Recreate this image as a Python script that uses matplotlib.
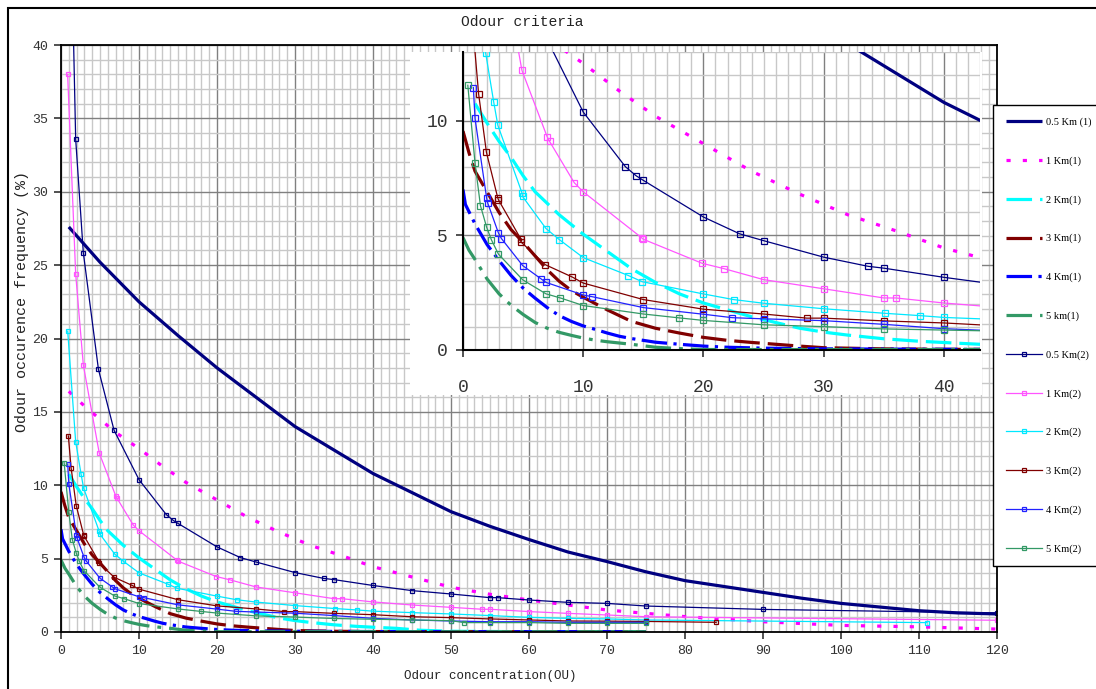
import matplotlib
matplotlib.use('Agg')
import matplotlib.pyplot as plt
from matplotlib.patches import Rectangle
from matplotlib.ticker import MultipleLocator

plt.rcParams['font.family'] = ['Liberation Mono', 'DejaVu Sans']

# ------------------------------
# series (1) : thick lines

x_05_1 = [1, 5, 10, 15, 20, 25, 30, 35, 40, 45, 50, 55, 60, 65, 70, 75, 80, 85, 90, 95, 100, 105, 110, 115, 120]
y_05_1 = [27.6, 25.2, 22.5, 20.2, 18.0, 16.0, 14.0, 12.4, 10.8, 9.5, 8.2, 7.2, 6.3, 5.45, 4.8, 4.1, 3.5, 3.1, 2.7, 2.3, 1.95, 1.7, 1.45, 1.3, 1.23]

x_1_1 = [1, 3, 5, 7, 10, 13, 16, 20, 24, 28, 32, 36, 40, 45, 50, 55, 60, 65, 70, 75, 80, 90, 100, 110, 120]
y_1_1 = [16.4, 15.4, 14.5, 13.6, 12.5, 11.3, 10.2, 9.0, 7.8, 6.8, 5.9, 5.2, 4.45, 3.75, 3.05, 2.57, 2.18, 1.84, 1.5, 1.27, 1.05, 0.7, 0.45, 0.35, 0.2]

x_2_1 = [1, 2, 3, 4, 5, 6, 8, 10, 12, 14, 16, 18, 20, 22, 24, 26, 28, 30, 32, 35, 38, 41, 43, 46, 50, 60, 70, 75]
y_2_1 = [10.75, 9.9, 9.1, 8.4, 7.6, 6.9, 5.9, 5.05, 4.3, 3.55, 2.95, 2.45, 2.05, 1.75, 1.45, 1.2, 0.95, 0.78, 0.65, 0.49, 0.38, 0.3, 0.25, 0.12, 0.05, 0.02, 0.02, 0.02]

x_3_1 = [0, 0.5, 1, 2, 3, 4, 5, 6, 7, 8, 9, 10, 12, 14, 16, 18, 20, 22, 24, 26, 28, 30, 35, 40, 50, 60, 70, 75]
y_3_1 = [9.55, 8.6, 7.8, 6.9, 6.0, 5.25, 4.7, 4.1, 3.5, 3.0, 2.6, 2.3, 1.75, 1.25, 0.95, 0.74, 0.55, 0.42, 0.33, 0.25, 0.17, 0.1, 0.05, 0.03, 0.02, 0.02, 0.02, 0.02]

x_4_1 = [0, 0.2, 1, 2, 3, 4, 5, 6, 7, 8, 9, 10, 11, 12, 13, 14, 15, 16, 18, 20, 22, 25, 30, 40, 50, 60, 70, 75]
y_4_1 = [7.0, 6.35, 5.5, 4.6, 3.9, 3.25, 2.7, 2.26, 1.85, 1.5, 1.25, 1.05, 0.9, 0.74, 0.6, 0.5, 0.42, 0.34, 0.25, 0.17, 0.12, 0.08, 0.05, 0.03, 0.02, 0.02, 0.02, 0.02]

x_5_1 = [0, 0.5, 1, 2, 3, 4, 5, 6, 7, 8, 9, 10, 11, 12, 14, 16, 18, 20, 25, 30, 40, 50, 60, 70, 75]
y_5_1 = [4.9, 4.35, 3.95, 3.1, 2.45, 1.95, 1.55, 1.2, 0.95, 0.77, 0.64, 0.52, 0.43, 0.36, 0.25, 0.12, 0.06, 0.02, 0.02, 0.02, 0.02, 0.02, 0.02, 0.02, 0.02]

# series (2) : thin lines with markers

x_05_2 = [1.5, 1.88, 2.86, 4.8, 6.8, 10.0, 13.5, 14.4, 15.0, 20.0, 23.0, 25.0, 30.0, 33.7, 35.0, 40.0, 45.0, 50.0, 55.0, 56.0, 60.0, 65.0, 70.0, 75.0, 90.0, 120.0]
y_05_2 = [43, 33.6, 25.85, 17.9, 13.75, 10.38, 8.0, 7.6, 7.4, 5.8, 5.07, 4.77, 4.05, 3.65, 3.57, 3.17, 2.82, 2.59, 2.34, 2.34, 2.18, 2.02, 1.95, 1.77, 1.54, 1.3]

x_1_2 = [0.85, 1.88, 2.86, 4.9, 7.0, 7.2, 9.25, 10.0, 14.85, 15.0, 19.9, 21.7, 25.0, 30.0, 35.0, 36.0, 40.0, 45.0, 50.0, 54.0, 55.0, 60.0, 65.0, 70.0, 75.0, 120.0]
y_1_2 = [38.0, 24.4, 18.2, 12.2, 9.3, 9.1, 7.3, 6.9, 4.9, 4.83, 3.78, 3.55, 3.07, 2.67, 2.27, 2.27, 2.05, 1.84, 1.68, 1.55, 1.55, 1.39, 1.27, 1.16, 1.04, 0.8]

x_2_2 = [0.86, 1.88, 2.56, 2.9, 4.9, 4.95, 6.9, 8.0, 10.0, 13.75, 14.9, 19.95, 22.5, 25.0, 30.0, 35.1, 38.0, 40.0, 45.0, 50.0, 55.0, 60.0, 65.0, 70.0, 75.0, 111.0]
y_2_2 = [20.5, 12.97, 10.8, 9.8, 6.86, 6.7, 5.3, 4.82, 4.03, 3.25, 2.98, 2.45, 2.2, 2.04, 1.8, 1.6, 1.5, 1.42, 1.32, 1.23, 1.12, 1.0, 0.93, 0.89, 0.82, 0.64]

x_3_2 = [0.94, 1.3, 1.95, 2.9, 2.95, 4.8, 4.85, 6.85, 9.1, 10.0, 15.0, 20.0, 25.0, 28.6, 30.0, 35.0, 40.0, 45.0, 50.0, 55.0, 60.0, 65.0, 70.0, 75.0, 84.0]
y_3_2 = [13.36, 11.17, 8.62, 6.62, 6.55, 4.85, 4.7, 3.72, 3.18, 2.92, 2.2, 1.78, 1.57, 1.39, 1.39, 1.27, 1.18, 1.04, 0.98, 0.89, 0.82, 0.75, 0.74, 0.72, 0.66]

x_4_2 = [0.86, 1.0, 1.97, 2.05, 2.95, 3.2, 4.97, 6.5, 6.9, 10.0, 10.7, 15.0, 20.0, 22.4, 25.0, 30.0, 35.0, 40.0, 45.0, 50.0, 55.0, 60.0, 65.0, 70.0, 75.0]
y_4_2 = [11.45, 10.1, 6.61, 6.42, 5.1, 4.86, 3.68, 3.1, 2.95, 2.4, 2.33, 1.85, 1.56, 1.41, 1.36, 1.28, 1.12, 0.93, 0.82, 0.75, 0.7, 0.7, 0.66, 0.66, 0.66]

x_5_2 = [0.4, 1.0, 1.45, 1.97, 2.35, 2.95, 4.97, 6.9, 8.1, 10.0, 15.0, 18.0, 20.0, 25.0, 30.0, 35.0, 40.0, 45.0, 50.0, 51.7, 55.0, 60.0, 65.0, 70.0, 75.0]
y_5_2 = [11.55, 8.15, 6.3, 5.35, 4.82, 4.18, 3.06, 2.45, 2.27, 1.94, 1.57, 1.4, 1.29, 1.1, 1.02, 0.92, 0.87, 0.82, 0.77, 0.64, 0.64, 0.64, 0.59, 0.59, 0.59]

thick = [
    ("0.5 Km (1)", x_05_1, y_05_1, "#000080", None),
    ("1 Km(1)", x_1_1, y_1_1, "#FF00FF", (1.3, 3.8)),
    ("2 Km(1)", x_2_1, y_2_1, "#00FFFF", (8, 2.5)),
    ("3 Km(1)", x_3_1, y_3_1, "#800000", (8, 2.5)),
    ("4 Km(1)", x_4_1, y_4_1, "#0000FF", (8, 2, 1, 2)),
    ("5 km(1)", x_5_1, y_5_1, "#339966", (8, 2.5, 1.2, 2.5)),
]
thin = [
    ("0.5 Km(2)", x_05_2, y_05_2, "#000080"),
    ("1 Km(2)", x_1_2, y_1_2, "#FF55FF"),
    ("2 Km(2)", x_2_2, y_2_2, "#00E8FF"),
    ("3 Km(2)", x_3_2, y_3_2, "#800000"),
    ("4 Km(2)", x_4_2, y_4_2, "#2222FF"),
    ("5 Km(2)", x_5_2, y_5_2, "#339966"),
]

# ------------------------------

W, H = 1096, 689
fig = plt.figure(figsize=(W / 100, H / 100), dpi=100)


def box(l, t, r, b):
    return [l / W, 1 - b / H, (r - l) / W, (b - t) / H]


def draw_series(a, ms):
    for lab, x, y, c, d in thick:
        ln, = a.plot(x, y, color=c, lw=2.3, label=lab, solid_capstyle='butt')
        if d is not None:
            ln.set_dashes(d)
    for lab, x, y, c in thin:
        a.plot(x, y, color=c, lw=0.9, marker='s', ms=ms, mfc='none', mec=c, mew=0.9, label=lab)


def style_grid(a):
    a.xaxis.set_minor_locator(MultipleLocator(1))
    a.yaxis.set_minor_locator(MultipleLocator(1))
    a.grid(which='minor', color='#c8c8c8', lw=1.0)
    a.grid(which='major', color='#808080', lw=1.0)
    a.set_axisbelow(True)
    a.tick_params(which='minor', length=0)
    a.tick_params(which='major', direction='out', length=5, width=1.2, color='black')


# main chart
ax = fig.add_axes(box(61, 45, 997, 632))
ax.set_zorder(0)
draw_series(ax, 3)
ax.set_xlim(0, 120)
ax.set_ylim(0, 40)
ax.set_xticks(range(0, 121, 10))
ax.set_yticks(range(0, 41, 5))
style_grid(ax)
ax.tick_params(labelsize=9.5, pad=4, colors='#333333')
for s in ax.spines.values():
    s.set_color('black')
    s.set_linewidth(1.3)

# white chart area behind the zoomed chart
fig.add_artist(Rectangle((410 / W, 1 - 395 / H), (982 - 410) / W, (395 - 52) / H,
                         transform=fig.transFigure, fc='white', ec='none', zorder=1))

# zoomed chart
ins = fig.add_axes(box(463, 52, 980, 350))
ins.set_zorder(2)
draw_series(ins, 4.2)
ins.set_xlim(0, 43)
ins.set_ylim(0, 13)
ins.set_xticks(range(0, 41, 10))
ins.set_yticks([0, 5, 10])
style_grid(ins)
ins.tick_params(labelsize=13, colors='#333333')
ins.tick_params(axis='x', pad=16)
ins.tick_params(axis='y', pad=6)
ins.spines['top'].set_visible(False)
ins.spines['right'].set_visible(False)
ins.spines['left'].set_linewidth(1.5)
ins.spines['bottom'].set_linewidth(1.5)

handles, labels = ax.get_legend_handles_labels()
leg = fig.legend(handles, labels, loc='upper left', bbox_to_anchor=(993 / W, 1 - 105 / H),
                 prop={'family': 'Liberation Serif', 'size': 7.5},
                 labelspacing=2.8, handlelength=3.55, handletextpad=0.35,
                 borderpad=1.2, borderaxespad=0, numpoints=1, frameon=True, fancybox=False,
                 edgecolor='black', framealpha=1)
leg.get_frame().set_linewidth(1.0)
leg.set_zorder(5)

fig.text(522 / W, 1 - 22 / H, "Odour criteria", ha='center', va='center', fontsize=10.5, color='#222222')
fig.text(490 / W, 1 - 676 / H, "Odour concentration(OU)", ha='center', va='center', fontsize=9, color='#222222')
fig.text(22 / W, 1 - 302 / H, "Odour occurence frequency (%)", ha='center', va='center',
         rotation=90, fontsize=10.8, color='#222222')

# outer border
fig.add_artist(Rectangle((8 / W, -0.02), 1.1, 1 - 8 / H + 0.02, transform=fig.transFigure,
                         fill=False, ec='black', lw=1.5, zorder=6))

fig.savefig("out.png", dpi=100)
